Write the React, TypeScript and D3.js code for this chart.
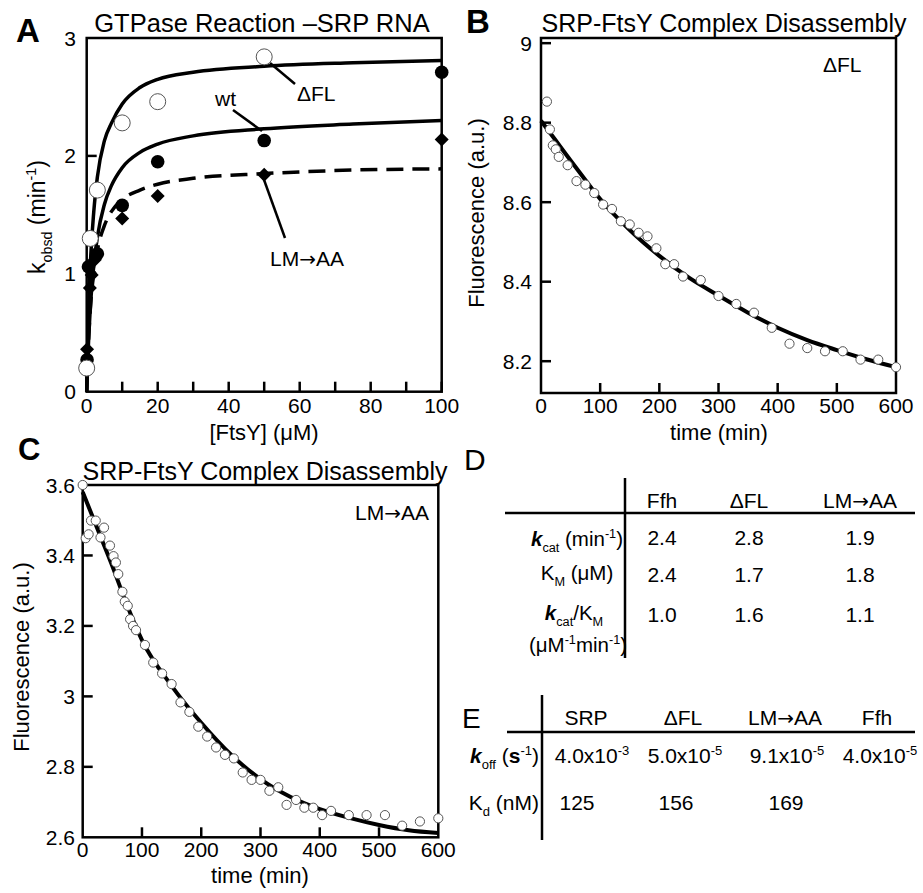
import React from 'react';
import * as d3 from 'd3';

const FONT = "'Liberation Sans', Arial, Helvetica, sans-serif";

// ---- Panel A: GTPase reaction, k_obsd vs [FtsY] ----
const ftsyWt = [0.1, 0.5, 3, 10, 20, 50, 100];
const kobsWt = [0.27, 1.06, 1.17, 1.58, 1.95, 2.13, 2.71];
const ftsyDfl = [0, 1, 3, 10, 20, 50];
const kobsDfl = [0.2, 1.3, 1.71, 2.28, 2.46, 2.84];
const ftsyLm = [0.1, 0.9, 1.4, 2.3, 10, 20, 50, 100];
const kobsLm = [0.36, 0.88, 0.99, 1.12, 1.47, 1.66, 1.84, 2.14];

// fitted curves
const fitFtsy = [0, 0.25, 0.5, 1, 2, 3, 5, 7, 10, 15, 20, 30, 50, 75, 100];
const fitDfl = [0, 0.36, 0.65, 1.06, 1.53, 1.82, 2.13, 2.28, 2.44, 2.58, 2.65, 2.71, 2.76, 2.79, 2.81];
const fitWt = [0, 0.22, 0.41, 0.7, 1.07, 1.31, 1.59, 1.75, 1.9, 2.03, 2.1, 2.17, 2.23, 2.27, 2.3];
const fitLm = [0, 0.23, 0.42, 0.69, 1.01, 1.2, 1.41, 1.53, 1.63, 1.71, 1.76, 1.81, 1.85, 1.88, 1.89];

const aTicksX = [0, 10, 20, 30, 40, 50, 60, 70, 80, 90, 100];
const aLabelsX = [0, 20, 40, 60, 80, 100];
const aTicksY = [1, 2];
const aLabelsY = [0, 1, 2, 3];

// ---- Panel B: dFL complex disassembly ----
const timeB = [10, 15, 20, 25, 30, 45, 60, 75, 90, 105, 120, 135, 150, 165, 180, 195, 210, 225, 240, 270, 300, 330, 360, 390, 420, 450, 480, 510, 540, 570, 600];
const fluorB = [8.853, 8.783, 8.743, 8.733, 8.714, 8.693, 8.653, 8.644, 8.623, 8.594, 8.583, 8.552, 8.544, 8.523, 8.514, 8.484, 8.444, 8.444, 8.413, 8.404, 8.364, 8.344, 8.322, 8.284, 8.244, 8.233, 8.225, 8.225, 8.204, 8.204, 8.185];
const fitTime = [0, 25, 50, 75, 100, 150, 200, 250, 300, 350, 400, 450, 500, 550, 600];
const fitB = [8.805, 8.755, 8.705, 8.656, 8.608, 8.53, 8.465, 8.41, 8.365, 8.322, 8.284, 8.253, 8.228, 8.205, 8.185];
const bTicksY = [8.2, 8.4, 8.6, 8.8, 9];

// ---- Panel C: LM->AA complex disassembly ----
const timeC = [0, 5, 10, 14, 22, 30, 36, 46, 52, 56, 60, 67, 71, 76, 80, 85, 90, 105, 119, 134, 150, 165, 180, 195, 210, 225, 240, 255, 270, 285, 300, 315, 330, 344, 360, 374, 389, 404, 419, 449, 479, 510, 539, 569, 600];
const fluorC = [3.6, 3.449, 3.46, 3.499, 3.499, 3.451, 3.479, 3.428, 3.398, 3.38, 3.347, 3.297, 3.269, 3.257, 3.219, 3.2, 3.188, 3.146, 3.096, 3.065, 3.035, 2.983, 2.956, 2.914, 2.886, 2.855, 2.834, 2.824, 2.784, 2.763, 2.763, 2.732, 2.742, 2.692, 2.706, 2.684, 2.684, 2.663, 2.675, 2.663, 2.663, 2.663, 2.633, 2.645, 2.654];
const fitC = [3.58, 3.475, 3.37, 3.258, 3.16, 3.03, 2.925, 2.835, 2.765, 2.715, 2.68, 2.655, 2.635, 2.62, 2.612];
const cTicksY = [2.8, 3, 3.2, 3.4];
const cLabelsY = [2.6, 2.8, 3, 3.2, 3.4, 3.6];

const timeTicks = [100, 200, 300, 400, 500];
const timeLabels = [0, 100, 200, 300, 400, 500, 600];

// ---- Table D ----
const dCols = ['Ffh', 'ΔFL', 'LM→AA'];
const dKcat = ['2.4', '2.8', '1.9'];
const dKm = ['2.4', '1.7', '1.8'];
const dRatio = ['1.0', '1.6', '1.1'];

// ---- Table E ----
const eCols = ['SRP', 'ΔFL', 'LM→AA', 'Ffh'];
const eKoffMant = ['4.0', '5.0', '9.1', '4.0'];
const eKoffExp = ['-3', '-5', '-5', '-5'];
const eKd = ['125', '156', '169'];

type Seg = { t: string; s?: 'sub' | 'sup'; b?: boolean; i?: boolean };

function Rich({ x, y, segs, size, anchor = 'start', transform }: { x: number; y: number; segs: Seg[]; size: number; anchor?: string; transform?: string }) {
  let cur = 0;
  return (
    <text x={x} y={y} fontSize={size} textAnchor={anchor} transform={transform}>
      {segs.map((g, k) => {
        const target = g.s === 'sub' ? size * 0.3 : g.s === 'sup' ? -size * 0.38 : 0;
        const dy = target - cur;
        cur = target;
        return (
          <tspan key={k} dy={dy} fontSize={g.s ? size * 0.62 : size} fontWeight={g.b ? 'bold' : undefined} fontStyle={g.i ? 'italic' : undefined}>
            {g.t}
          </tspan>
        );
      })}
    </text>
  );
}

// label whose arrow uses a wider glyph, like the original
function Label({ x, y, text, size = 21, anchor = 'start' }: { x: number; y: number; text: string; size?: number; anchor?: string }) {
  const parts = text.split('→');
  return (
    <text x={x} y={y} fontSize={size} textAnchor={anchor}>
      {parts.map((p, i) => (
        <React.Fragment key={i}>
          {i > 0 && <tspan fontFamily="'DejaVu Sans'" fontSize={size * 0.95}>→</tspan>}
          <tspan>{p}</tspan>
        </React.Fragment>
      ))}
    </text>
  );
}

const TICK = 10;

function Frame({ x, y, xTicks, xLabels, yTicks, yLabels, xLabelY, yLabelX, size = 20 }: any) {
  const [x0, x1] = x.range();
  const [y0, y1] = y.range();
  return (
    <g>
      <rect x={x0} y={y1} width={x1 - x0} height={y0 - y1} fill="none" stroke="#000" strokeWidth={2.5} />
      {xTicks.map((t: number) => (
        <line key={'xt' + t} x1={x(t)} x2={x(t)} y1={y0} y2={y0 - TICK} stroke="#000" strokeWidth={2.5} />
      ))}
      {yTicks.map((t: number) => (
        <line key={'yt' + t} x1={x0} x2={x0 + TICK} y1={y(t)} y2={y(t)} stroke="#000" strokeWidth={2.5} />
      ))}
      {xLabels.map((t: number) => (
        <text key={'xl' + t} x={x(t)} y={xLabelY} fontSize={size} textAnchor="middle">{String(t)}</text>
      ))}
      {yLabels.map((t: number) => (
        <text key={'yl' + t} x={yLabelX} y={y(t) + size * 0.36} fontSize={size} textAnchor="end">{String(t)}</text>
      ))}
    </g>
  );
}

function OpenDots({ xs, ys, x, y, r }: any) {
  return (
    <g>
      {xs.map((v: number, i: number) => (
        <circle key={i} cx={x(v)} cy={y(ys[i])} r={r} fill="#fff" stroke="#555" strokeWidth={1} />
      ))}
    </g>
  );
}

export default function App() {
  // panel A
  const xA = d3.scaleLinear().domain([0, 100]).range([86.7, 441.7]);
  const yA = d3.scaleLinear().domain([0, 3]).range([391.7, 38]);
  const lineA = (ys: number[]) =>
    d3.line<number>().x((d) => xA(d)).y((_, i) => yA(ys[i])).curve(d3.curveMonotoneX)(fitFtsy) || '';

  // panel B
  const xB = d3.scaleLinear().domain([0, 600]).range([541, 896]);
  const yB = d3.scaleLinear().domain([8.12, 9.013]).range([393, 38]);
  const lineB = d3.line<number>().x((d) => xB(d)).y((_, i) => yB(fitB[i])).curve(d3.curveMonotoneX)(fitTime) || '';

  // panel C
  const xC = d3.scaleLinear().domain([0, 600]).range([82.7, 438.3]);
  const yC = d3.scaleLinear().domain([2.6, 3.6]).range([837.3, 485]);
  const lineC = d3.line<number>().x((d) => xC(d)).y((_, i) => yC(fitC[i])).curve(d3.curveMonotoneX)(fitTime) || '';

  const diamond = (r: number) => `M0,${-r}L${r},0L0,${r}L${-r},0Z`;

  // table columns
  const dX = [662, 749, 860];
  const eX = [586, 683, 785, 877];

  return (
    <svg width={923} height={893} style={{ position: 'absolute', left: 0, top: 0, background: '#fff' }} fontFamily={FONT} fill="#000">
      {/* ---------- A ---------- */}
      <text x={16} y={42} fontSize={33} fontWeight="bold">A</text>
      <text x={262} y={32} fontSize={25.5} textAnchor="middle">GTPase Reaction –SRP RNA</text>
      <Frame x={xA} y={yA} xTicks={aTicksX} xLabels={aLabelsX} yTicks={aTicksY} yLabels={aLabelsY} xLabelY={413} yLabelX={76} size={21} />
      <path d={lineA(fitDfl)} fill="none" stroke="#000" strokeWidth={3.5} />
      <path d={lineA(fitWt)} fill="none" stroke="#000" strokeWidth={3.5} />
      <path d={lineA(fitLm)} fill="none" stroke="#000" strokeWidth={3.5} strokeDasharray="17,9" />
      {/* leaders */}
      <line x1={270} y1={63} x2={295} y2={84} stroke="#000" strokeWidth={2.5} />
      <line x1={233} y1={110} x2={262} y2={131} stroke="#000" strokeWidth={2.5} />
      <line x1={263} y1={177} x2={285} y2={238} stroke="#000" strokeWidth={2.5} />
      {ftsyLm.map((v, i) => (
        <path key={'d' + i} d={diamond(7)} transform={`translate(${xA(v)},${yA(kobsLm[i])})`} fill="#000" />
      ))}
      {ftsyWt.map((v, i) => (
        <circle key={'w' + i} cx={xA(v)} cy={yA(kobsWt[i])} r={6.8} fill="#000" />
      ))}
      <OpenDots xs={ftsyDfl} ys={kobsDfl} x={xA} y={yA} r={8} />
      <text x={297} y={101} fontSize={21}>ΔFL</text>
      <text x={215} y={106} fontSize={21}>wt</text>
      <Label x={270} y={266} text="LM→AA" />
      <Rich x={45} y={217} size={23} anchor="middle" transform="rotate(-90,45,217)"
        segs={[{ t: 'k' }, { t: 'obsd', s: 'sub' }, { t: ' (min' }, { t: '-1', s: 'sup' }, { t: ')' }]} />
      <text x={264} y={440} fontSize={22} textAnchor="middle">[FtsY] (μM)</text>

      {/* ---------- B ---------- */}
      <text x={466} y={33} fontSize={33} fontWeight="bold">B</text>
      <text x={724} y={32} fontSize={25} textAnchor="middle">SRP-FtsY Complex Disassembly</text>
      <Frame x={xB} y={yB} xTicks={timeTicks} xLabels={timeLabels} yTicks={bTicksY} yLabels={bTicksY} xLabelY={413} yLabelX={532} size={21} />
      <path d={lineB} fill="none" stroke="#000" strokeWidth={4} />
      <OpenDots xs={timeB} ys={fluorB} x={xB} y={yB} r={4.6} />
      <text x={823} y={72} fontSize={21}>ΔFL</text>
      <text x={484} y={213} fontSize={22} textAnchor="middle" transform="rotate(-90,484,213)">Fluorescence (a.u.)</text>
      <text x={719} y={440} fontSize={22} textAnchor="middle">time (min)</text>

      {/* ---------- C ---------- */}
      <text x={18} y={460} fontSize={31} fontWeight="bold">C</text>
      <text x={265} y={480} fontSize={25} textAnchor="middle">SRP-FtsY Complex Disassembly</text>
      <Frame x={xC} y={yC} xTicks={timeTicks} xLabels={timeLabels} yTicks={cTicksY} yLabels={cLabelsY} xLabelY={857} yLabelX={75} size={21} />
      <path d={lineC} fill="none" stroke="#000" strokeWidth={4} />
      <OpenDots xs={timeC} ys={fluorC} x={xC} y={yC} r={4.6} />
      <Label x={429} y={520} anchor="end" text="LM→AA" />
      <text x={29} y={657} fontSize={22} textAnchor="middle" transform="rotate(-90,29,657)">Fluorescence (a.u.)</text>
      <text x={260} y={883} fontSize={22} textAnchor="middle">time (min)</text>

      {/* ---------- D ---------- */}
      <text x={464} y={470} fontSize={30}>D</text>
      <line x1={505} x2={915} y1={513} y2={513} stroke="#000" strokeWidth={2.5} />
      <line x1={625} x2={625} y1={478} y2={658} stroke="#000" strokeWidth={2.5} />
      {dCols.map((c, i) => (
        <Label key={'dc' + i} x={dX[i]} y={508} anchor="middle" text={c} />
      ))}
      {[dKcat, dKm, dRatio].map((row, r) =>
        row.map((v, i) => (
          <text key={'dv' + r + i} x={dX[i]} y={[545, 582, 622][r]} fontSize={21} textAnchor="middle">{v}</text>
        ))
      )}
      <Rich x={577} y={546} size={20.5} anchor="middle"
        segs={[{ t: 'k', b: true, i: true }, { t: 'cat', s: 'sub' }, { t: ' (min' }, { t: '-1', s: 'sup' }, { t: ')' }]} />
      <Rich x={577} y={580} size={20.5} anchor="middle"
        segs={[{ t: 'K' }, { t: 'M', s: 'sub' }, { t: ' (μM)' }]} />
      <Rich x={574} y={620} size={20.5} anchor="middle"
        segs={[{ t: 'k', b: true, i: true }, { t: 'cat', s: 'sub' }, { t: '/K' }, { t: 'M', s: 'sub' }]} />
      <Rich x={578} y={652} size={20.5} anchor="middle"
        segs={[{ t: '(μM' }, { t: '-1', s: 'sup' }, { t: 'min' }, { t: '-1', s: 'sup' }, { t: ')' }]} />

      {/* ---------- E ---------- */}
      <text x={462} y={728} fontSize={28}>E</text>
      <line x1={507} x2={915} y1={732} y2={732} stroke="#000" strokeWidth={2.5} />
      <line x1={542} x2={542} y1={695} y2={840} stroke="#000" strokeWidth={2.5} />
      {eCols.map((c, i) => (
        <Label key={'ec' + i} x={eX[i]} y={725} anchor="middle" text={c} />
      ))}
      {eKoffMant.map((m, i) => (
        <Rich key={'ek' + i} x={[592, 685, 787, 880][i]} y={763} size={21} anchor="middle"
          segs={[{ t: m + 'x10' }, { t: eKoffExp[i], s: 'sup' }]} />
      ))}
      {eKd.map((v, i) => (
        <text key={'ed' + i} x={[577, 676, 786][i]} y={810} fontSize={21} textAnchor="middle">{v}</text>
      ))}
      <Rich x={539} y={763} size={21} anchor="end"
        segs={[{ t: 'k', b: true, i: true }, { t: 'off', s: 'sub' }, { t: ' (' }, { t: 's', b: true }, { t: '-1', s: 'sup' }, { t: ')' }]} />
      <Rich x={539} y={810} size={21} anchor="end"
        segs={[{ t: 'K' }, { t: 'd', s: 'sub' }, { t: ' (nM)' }]} />
    </svg>
  );
}
